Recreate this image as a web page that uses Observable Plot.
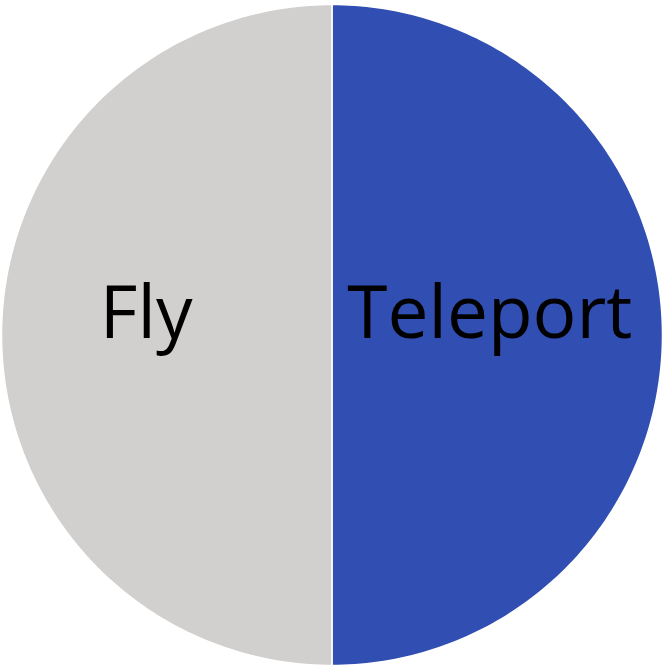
<!DOCTYPE html>
<html>
<head>
<meta charset="utf-8">
<script src="https://cdn.jsdelivr.net/npm/d3@7"></script>
<script src="https://cdn.jsdelivr.net/npm/@observablehq/plot@0.6"></script>
<style>
  html, body { margin: 0; padding: 0; background: #fff; }
</style>
</head>
<body>
<div id="chart"></div>
<script>
const categories = ["Teleport", "Fly"];
const values = [50, 50];
const colors = ["#314fb3", "#d2d0ce"];

const data = categories.map((c, i) => ({category: c, value: values[i]}));
const arcs = d3.pie().sort(null).value(d => d.value)(data);

// Build slice polygons (unit radius, y up) from the pie angles
function slicePolygon(a) {
  const n = 180;
  const ring = [[0, 0]];
  for (let k = 0; k <= n; k++) {
    const t = a.startAngle + (a.endAngle - a.startAngle) * k / n;
    ring.push([Math.sin(t), Math.cos(t)]);
  }
  ring.push([0, 0]);
  return {type: "Feature", properties: {category: a.data.category}, geometry: {type: "Polygon", coordinates: [ring]}};
}
const slices = arcs.map(slicePolygon);

const outline = {type: "Polygon", coordinates: [d3.range(0, 361, 2).map(d => {
  const t = d * Math.PI / 180; return [Math.sin(t), Math.cos(t)];
})]};

const labelR = 0.52;
const labels = arcs.map(a => {
  const m = (a.startAngle + a.endAngle) / 2;
  return {category: a.data.category, x: labelR * Math.sin(m), y: labelR * Math.cos(m)};
});

const chart = Plot.plot({
  width: 662,
  height: 669,
  marginTop: 3,
  marginBottom: 3,
  marginLeft: 1,
  marginRight: 0,
  projection: {type: "identity", reflectY: true, domain: outline},
  color: {domain: categories, range: colors},
  marks: [
    Plot.geo(slices, {fill: d => d.properties.category, stroke: "#ffffff", strokeWidth: 1.5}),
    Plot.text(labels, {x: "x", y: "y", text: "category", fontSize: 73, fill: "#000", dx: -14, dy: -20,
      fontFamily: "'Open Sans', 'Noto Sans', sans-serif"})
  ]
});
document.getElementById("chart").appendChild(chart);
</script>
</body>
</html>
